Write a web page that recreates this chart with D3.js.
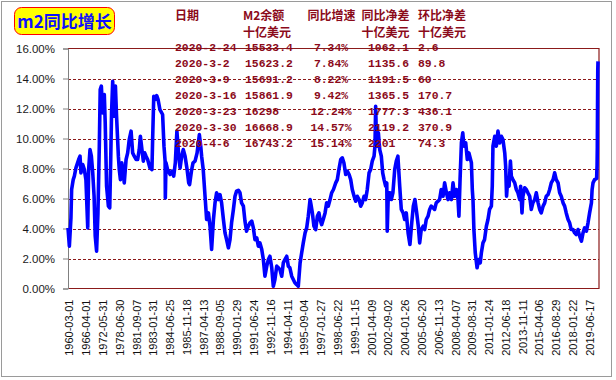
<!DOCTYPE html>
<html><head><meta charset="utf-8">
<script src="https://cdn.jsdelivr.net/npm/d3@7/dist/d3.min.js"></script>
<style>html,body{margin:0;padding:0;background:#fff;}svg{display:block;}</style>
</head><body>
<svg id="c" width="616" height="380"></svg>
<script>
const title = "m2同比增长";
const tickLabels = ["1960-03-01","1966-04-01","1972-05-31","1978-06-30","1981-09-07","1983-01-31","1984-06-25","1985-11-18","1987-04-13","1988-09-05","1990-01-29","1991-06-24","1992-11-16","1994-04-11","1995-09-04","1997-01-27","1998-06-22","1999-11-15","2001-04-09","2002-09-02","2004-01-26","2005-06-20","2006-11-13","2008-04-07","2009-08-31","2011-01-24","2012-06-18","2013-11-11","2015-04-06","2016-08-29","2018-01-22","2019-06-17"];
const tickEvery = 74;          // observations between category labels
const obsCount = 2337;         // total observations
const yTicks = [0,2,4,6,8,10,12,14,16];

// observation index of sampled points
const obsIdx = [0,6,13,16,23,28,35,47,53,57,65,72,79,87,91,97,103,109,115,120,126,132,138,142,147,153,160,164,170,178,184,188,192,197,201,209,214,222,226,231,237,241,248,256,263,270,278,285,292,300,307,314,319,326,332,338,344,351,361,370,373,378,385,391,397,405,417,423,428,429,432,439,450,458,466,473,480,488,494,501,508,516,525,532,536,544,551,560,569,579,585,
589,596,604,611,619,626,633,641,648,655,663,670,677,685,692,699,707,714,721,729,736,743,751,758,765,773,780,787,795,802,810,817,824,832,839,846,854,861,868,876,883,890,898,905,912,920,927,934,942,949,956,964,971,978,986,993,1000,1008,1015,1023,1030,1037,1045,1052,1059,1067,1071,1077,1084,1092,1099,1106,1111,1118,1125,1133,1140,1147,1155,1162,1170,
1180,1187,1194,1202,1209,1216,1224,1231,1239,1246,1253,1261,1268,1275,1283,1290,1297,1305,1312,1319,1327,1334,1341,1349,1353,1356,1360,1368,1374,1381,1387,1393,1400,1405,1407,1412,1419,1425,1432,1440,1447,1454,1462,1469,1477,1484,1491,1499,1507,1515,1522,1529,1537,1544,1550,1557,1565,1572,1579,1587,1594,1601,1609,1616,1623,1631,1638,1645,1653,1660,1668,1675,1682,1690,1697,1704,1712,1719,1723,1728,1734,1740,1745,1753,1760,1767,
1778,1782,1785,1789,1795,1803,1810,1817,1822,1829,1836,1844,1851,1858,1866,1870,1873,1881,1888,1895,1903,1910,1917,1925,1929,1933,1938,1944,1950,1954,1961,1969,1976,1983,1991,1995,2001,2005,2013,2020,2027,2035,2042,2049,2057,2064,2072,2079,2086,2094,2101,2108,2116,2123,2130,2138,2145,2152,2160,2167,2174,2182,2189,2196,2204,2211,2218,2226,2233,2240,2248,2255,2263,2270,2277,2285,2292,2299,2307,2310,2314,2321,2330,2331,2332,2333,2334,2335,2336];
// M2 year-over-year growth, %
const growth = [4.04,2.82,4.71,6.60,7.26,7.49,8.04,8.60,8.82,7.71,8.26,7.93,7.26,4.04,7.93,9.26,8.82,7.71,6.15,3.49,2.49,5.04,9.49,13.26,13.49,11.71,12.93,11.04,6.82,5.49,5.38,8.38,11.71,13.82,11.49,13.49,11.49,8.82,7.93,7.26,8.38,7.93,7.04,8.60,9.04,9.93,10.49,9.04,8.82,8.60,8.60,9.26,10.15,9.26,8.49,9.04,8.82,8.60,8.04,7.93,9.93,12.82,12.60,12.86,12.60,11.93,11.60,9.49,8.49,6.04,8.38,7.93,7.60,7.82,7.49,8.38,10.49,8.82,8.04,8.82,9.26,8.82,7.93,7.04,6.93,7.82,8.38,8.49,9.04,10.26,9.49,
8.82,7.93,6.15,4.60,5.04,4.15,2.60,4.60,5.71,6.38,5.93,6.26,5.71,4.60,3.71,3.26,2.71,3.26,4.38,5.26,6.15,6.49,6.55,6.38,5.71,5.49,4.49,3.82,4.15,4.38,4.49,4.04,3.26,3.37,2.82,3.04,2.60,1.93,0.82,1.49,1.93,2.15,1.38,0.15,0.60,1.49,1.38,1.26,0.82,1.71,1.93,2.15,1.49,1.38,0.82,0.60,0.38,0.26,0.15,1.71,2.38,3.04,3.71,4.04,4.82,5.93,5.60,5.04,4.15,3.93,4.82,5.04,4.60,4.26,4.60,5.04,5.71,5.49,5.93,6.38,6.60,
7.04,7.26,7.93,8.60,8.71,8.38,7.60,7.82,7.60,7.26,6.60,6.15,5.82,6.15,5.93,5.49,5.71,6.15,5.93,6.60,7.71,7.93,8.49,8.82,9.49,12.15,9.49,10.38,9.26,8.82,7.71,7.26,6.82,7.04,3.82,6.38,6.38,5.93,6.38,7.93,8.49,8.82,6.82,5.27,5.04,4.60,5.04,3.71,2.93,4.38,5.49,5.93,5.04,4.15,3.04,3.93,4.15,3.93,4.60,4.82,5.27,5.49,5.38,5.27,5.71,5.82,5.93,6.60,6.15,7.04,6.38,5.93,6.38,5.93,7.04,6.15,6.60,5.93,4.82,7.26,9.71,10.38,9.49,9.71,8.60,9.04,
8.38,6.60,5.93,3.93,2.38,1.38,1.93,1.71,2.38,3.04,3.26,4.15,4.60,5.27,5.49,6.82,9.49,10.15,9.49,10.49,9.71,10.15,9.93,9.04,8.15,6.15,7.26,6.82,8.49,7.49,7.26,7.04,6.60,6.38,5.93,6.82,5.04,6.15,6.71,6.60,6.38,6.15,5.27,5.71,5.93,6.38,5.71,5.27,5.04,5.49,5.71,6.15,6.27,6.60,7.04,7.26,7.71,7.26,7.04,6.38,6.15,5.71,5.49,5.04,4.60,4.38,3.93,3.93,3.71,3.60,3.93,3.49,3.15,3.71,4.04,3.82,4.38,5.04,5.71,6.60,7.04,7.26,7.34,7.84,8.22,9.42,12.24,14.57,15.14];

// table
const tblHead1 = ["日期","M2余额","同比增速","同比净差","环比净差"];
const tblHead2 = ["","十亿美元","","十亿美元","十亿美元"];
const tblDates = ["2020-2-24","2020-3-2","2020-3-9","2020-3-16","2020-3-23","2020-3-30","2020-4-6"];
const tblM2 = ["15533.4","15623.2","15691.2","15861.9","16298","16668.9","16743.2"];
const tblYoY = ["7.34%","7.84%","8.22%","9.42%","12.24%","14.57%","15.14%"];
const tblYoYDiff = ["1062.1","1135.6","1191.5","1365.5","1777.3","2119.2","2201"];
const tblWoWDiff = ["2.6","89.8","60","170.7","436.1","370.9","74.3"];

const svg = d3.select("#c");
const L = 68, R = 599, T = 48.5, B = 288.5;
const darkRed = "#8B1A1A";

// outer frame
svg.append("rect").attr("x",1.5).attr("y",1.5).attr("width",610).attr("height",375)
  .attr("fill","#fff").attr("stroke","#9a9a9a").attr("stroke-width",1);

const x = d3.scaleLinear().domain([0, obsCount-1]).range([L, R-1]);
const y = d3.scaleLinear().domain([0,16]).range([B, T]);

// gridlines
svg.append("g").selectAll("line").data(yTicks.filter(v=>v>0 && v<16)).join("line")
  .attr("x1",L).attr("x2",R).attr("y1",d=>Math.round(y(d))+0.5).attr("y2",d=>Math.round(y(d))+0.5)
  .attr("stroke",darkRed).attr("stroke-width",1).attr("stroke-dasharray","3,2");
// plot border (top, right, bottom)
svg.append("path").attr("d",`M${L},${T}H${R}V${B}H${L}`).attr("fill","none")
  .attr("stroke",darkRed).attr("stroke-width",1.2);

// y axis
const yAxis = d3.axisLeft(y).tickValues(yTicks).tickSize(5).tickPadding(8)
  .tickFormat(d=>d.toFixed(2)+"%");
const ga = svg.append("g").attr("transform",`translate(${L},0)`).call(yAxis);
ga.select(".domain").attr("stroke","#808080");
ga.selectAll(".tick line").attr("stroke","#808080");
ga.selectAll("text").attr("font-family","Liberation Sans, Arial, sans-serif").attr("font-size","11.5px").attr("fill","#1a1a1a");

// x axis labels
const xt = d3.range(tickLabels.length).map(i=>i*tickEvery);
const xAxis = d3.axisBottom(x).tickValues(xt).tickSize(0).tickFormat((d,i)=>tickLabels[i]);
const gx = svg.append("g").attr("transform",`translate(0,${B})`).call(xAxis);
gx.select(".domain").remove();
gx.selectAll("text").attr("font-family","Liberation Sans, Arial, sans-serif").attr("font-size","11px").attr("fill","#111")
  .attr("text-anchor","end").attr("transform","rotate(-90)").attr("x",-11).attr("y",1).attr("dy","0.35em");

// line
const data = obsIdx.map((d,i)=>[d, growth[i]]);
svg.append("path").datum(data)
  .attr("d", d3.line().x(d=>x(d[0])).y(d=>y(d[1])))
  .attr("fill","none").attr("stroke","#0000FF").attr("stroke-width",3.6).attr("stroke-linejoin","round");

// title box
svg.append("rect").attr("x",14.5).attr("y",7.5).attr("width",100).attr("height",27).attr("rx",7)
  .attr("fill","#FFFF00").attr("stroke","#FF0000").attr("stroke-width",1);
svg.append("text").attr("x",64.5).attr("y",27.5).attr("text-anchor","middle")
  .attr("font-family","Noto Sans CJK SC, sans-serif").attr("font-weight","bold").attr("font-size","17px")
  .attr("fill","#1010FF").text(title);

// table
const tColor = "#8B0A1A";
const head = svg.append("g").attr("font-family","Noto Sans CJK SC, sans-serif").attr("font-weight","bold")
  .attr("font-size","12px").attr("fill",tColor);
const hx = [175, 243, 331.5, 361.5, 418];
const hAnchor = ["start","start","middle","start","start"];
tblHead1.forEach((t,i)=>{
  head.append("text").attr("x",hx[i]).attr("y",19.5).attr("text-anchor",hAnchor[i]).text(t);
  if (tblHead2[i]) head.append("text").attr("x",hx[i]).attr("y",37).attr("text-anchor",hAnchor[i]).text(tblHead2[i]);
});

const rows = svg.append("g").attr("font-family","Liberation Mono, DejaVu Sans Mono, monospace").attr("font-weight","bold")
  .attr("font-size","11.4px").attr("fill",tColor);
const cols = [[tblDates,175,"start"],[tblM2,245,"start"],[tblYoY,331,"middle"],[tblYoYDiff,368,"start"],[tblWoWDiff,418,"start"]];
cols.forEach(([arr,cx,anc])=>{
  rows.selectAll(null).data(arr).join("text")
    .attr("x",cx).attr("y",(d,i)=>50.8+i*16).attr("text-anchor",anc).text(d=>d);
});
</script>
</body></html>
